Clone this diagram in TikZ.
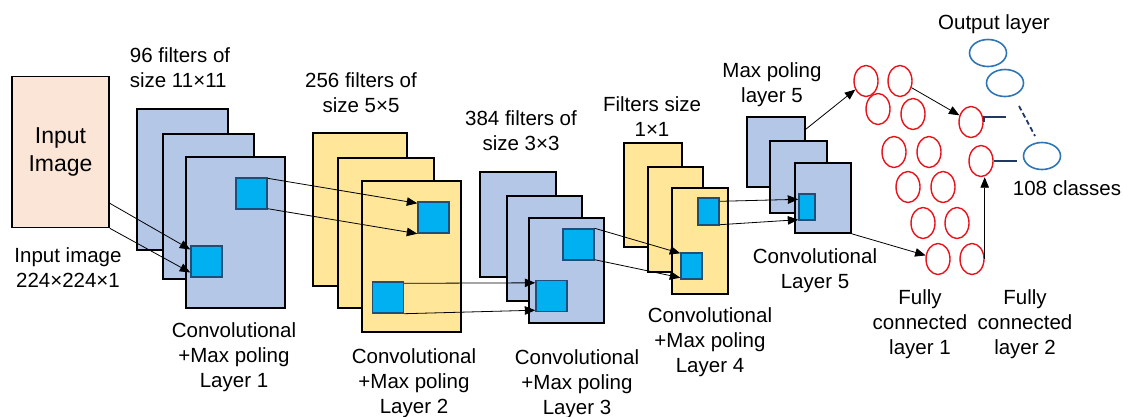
\documentclass[tikz,border=0pt]{standalone}
\usepackage{fontspec}
\setmainfont{Liberation Sans}
\usetikzlibrary{shapes.geometric,arrows.meta}

\definecolor{mapblue}{HTML}{B4C7E7}
\definecolor{mapyellow}{HTML}{FFE699}
\definecolor{inpeach}{HTML}{FBE5D6}
\definecolor{kernelcyan}{HTML}{00B0F0}
\definecolor{kerneledge}{HTML}{1F4E79}
\definecolor{neuronred}{HTML}{E8141C}
\definecolor{outblue}{HTML}{2E75B6}
\definecolor{navy}{HTML}{203864}

\begin{document}
\begin{tikzpicture}[x=1pt, y=-1pt]
  \tikzstyle{fm} = [draw=black, line width=1.6pt, inner sep=0pt];
  \tikzstyle{bl} = [fill=mapblue];
  \tikzstyle{yl} = [fill=mapyellow];
  \tikzstyle{sq} = [draw=kerneledge, fill=kernelcyan, line width=1.4pt,
  inner sep=0pt, minimum size=31pt];
  \tikzstyle{n} = [ellipse, draw=neuronred, line width=1.4pt, inner sep=0pt,
  minimum width=24pt, minimum height=31pt];
  \tikzstyle{o} = [ellipse, draw=outblue, line width=1.6pt, inner sep=0pt,
  minimum width=37pt, minimum height=27pt];
  \tikzstyle{a} = [line width=0.8pt, -{Triangle[length=10.5pt,width=8.5pt]}];
  \tikzstyle{cn} = [line width=1.8pt, color=navy];
  \tikzstyle{t} = [align=center, inner sep=0pt,
  font=\fontsize{20.5}{25}\selectfont];

  \useasboundingbox (0,0) rectangle (1123,416);

  % input
  \node[fm, fill=inpeach, minimum width=97pt, minimum height=151pt,
  font=\fontsize{23}{28}\selectfont, align=center] (in) at (60.5,152) {Input\\Image};

  % layer 1
  \node[fm,bl, minimum width=91pt, minimum height=141pt] (1a) at (182.5,179.5) {};
  \node[fm,bl, minimum width=91pt, minimum height=145pt] (1b) at (208.5,206.5) {};
  \node[fm,bl, minimum width=99pt, minimum height=151pt] (1c) at (235.5,232.5) {};
  \node[sq] (1t) at (251.5,193.5) {};
  \node[sq] (1s) at (206.5,261.5) {};

  % layer 2
  \node[fm,yl, minimum width=94pt, minimum height=153pt] (2a) at (360,209.5) {};
  \node[fm,yl, minimum width=96pt, minimum height=150pt] (2b) at (386,233) {};
  \node[fm,yl, minimum width=99pt, minimum height=151pt] (2c) at (411.5,256.5) {};
  \node[sq] (2t) at (433.5,217.5) {};
  \node[sq] (2s) at (388,297.5) {};

  % layer 3
  \node[fm,bl, minimum width=76pt, minimum height=105pt] (3a) at (518,224.5) {};
  \node[fm,bl, minimum width=75pt, minimum height=105pt] (3b) at (544.5,248.5) {};
  \node[fm,bl, minimum width=75pt, minimum height=105pt] (3c) at (566.5,270.5) {};
  \node[sq] (3t) at (578.5,244.5) {};
  \node[sq] (3s) at (551.5,296) {};

  % layer 4
  \node[fm,yl, minimum width=58pt, minimum height=104pt] (4a) at (653,195) {};
  \node[fm,yl, minimum width=55pt, minimum height=105pt] (4b) at (675.5,219.5) {};
  \node[fm,yl, minimum width=56pt, minimum height=106pt] (4c) at (700,241) {};
  \node[sq, minimum size=0pt, minimum width=21pt, minimum height=27pt] (4t) at (708.5,211.5) {};
  \node[sq, minimum size=0pt, minimum width=21pt, minimum height=26pt] (4s) at (691.5,266) {};

  % layer 5
  \node[fm,bl, minimum width=58pt, minimum height=70pt] (5a) at (776,152) {};
  \node[fm,bl, minimum width=57pt, minimum height=72pt] (5b) at (798.5,177) {};
  \node[fm,bl, minimum width=56pt, minimum height=70pt] (5c) at (823,198) {};
  \node[sq, minimum size=0pt, minimum width=16pt, minimum height=26pt] (5s) at (807,207) {};

  % fully connected 1
  \node[n] (f11) at (866,81) {};   \node[n] (f12) at (900,81) {};
  \node[n] (f21) at (878,109) {};  \node[n] (f22) at (913,114) {};
  \node[n] (f31) at (894,152) {};  \node[n] (f32) at (929,152) {};
  \node[n] (f41) at (908,187) {};  \node[n] (f42) at (943,187) {};
  \node[n] (f51) at (923,223) {};  \node[n] (f52) at (957,223) {};
  \node[n] (f61) at (938,259) {};  \node[n] (f62) at (972,259) {};

  % fully connected 2
  \node[n] (g1) at (971,122) {};
  \node[n] (g2) at (981,161) {};

  % output
  \node[o] (o1) at (988,53) {};
  \node[o] (o2) at (1005,83) {};
  \node[o] (o3) at (1042,156) {};
  \coordinate (e1) at (1006,117);
  \coordinate (d1) at (1019,106);
  \coordinate (d2) at (1035,136);

  % texts
  \node[t, align=left] (t0) at (180,68) {96 filters of\\size\ 11×11};
  \node[t] (t1) at (68,268) {Input image\\224×224×1};
  \node[t] (t2) at (361,93) {256 filters of\\size\ 5×5};
  \node[t] (t3) at (521,131) {384 filters of\\size\ 3×3};
  \node[t] (t4) at (652,117) {Filters size\\1×1};
  \node[t] (t5) at (772,85) {Max poling\\layer 5};
  \node[t] (t6) at (815,271) {Convolutional\\Layer 5};
  \node[t] (t7) at (994,24) {Output layer};
  \node[t] (t8) at (1067,188) {108 classes};
  \node[t] (t9) at (920,324) {Fully\\connected\\layer 1};
  \node[t] (t10) at (1025,324) {Fully\\connected\\layer 2};
  \node[t] (l1) at (234,357) {Convolutional\\+Max poling\\Layer 1};
  \node[t] (l2) at (414,383) {Convolutional\\+Max poling\\Layer 2};
  \node[t] (l3) at (577,384) {Convolutional\\+Max poling\\Layer 3};
  \node[t] (l4) at (710,342) {Convolutional\\+Max poling\\Layer 4};

  % connections
  \draw[a] ([yshift=25pt]in.south east) to ([yshift=12pt]1s.west);
  \draw[a] (in.south east) to ([yshift=-11pt]1s.west);
  \draw[a] ([yshift=-1pt]1t.north east) to ([yshift=-2pt]2t.north west);
  \draw[a] ([yshift=1pt]1t.south east) to (2t.south west);
  \draw[a] ([yshift=-2pt]2s.north east) to ([yshift=-3pt]3s.north west);
  \draw[a] (2s.south east) to ([yshift=2pt]3s.south west);
  \draw[a] (3t.north east) to ([yshift=-1pt]4s.north west);
  \draw[a] ([yshift=1pt]3t.south east) to ([yshift=2pt]4s.south west);
  \draw[a] ([yshift=-4pt]4t.north east) to ([yshift=-6pt]5s.north west);
  \draw[a] ([yshift=1pt]4t.south east) to ([yshift=1pt]5s.south west);
  \draw[a] ([yshift=-13pt]5a.north east) to (f11);
  \draw[a] (5c.south east) to (f61);
  \draw[a] (f12) to (g1);
  \draw[a] (f62.east) to (f62.east |- g2.south);

  \draw[cn] (g1.east) to (g1.east |- e1) -- (e1);
  \draw[cn] (g2.east) to ([xshift=-6pt]o3.west |- g2.east);
  \draw[cn, dashed, dash pattern=on 5pt off 3pt] (d1) to (d2);
\end{tikzpicture}
\end{document}
